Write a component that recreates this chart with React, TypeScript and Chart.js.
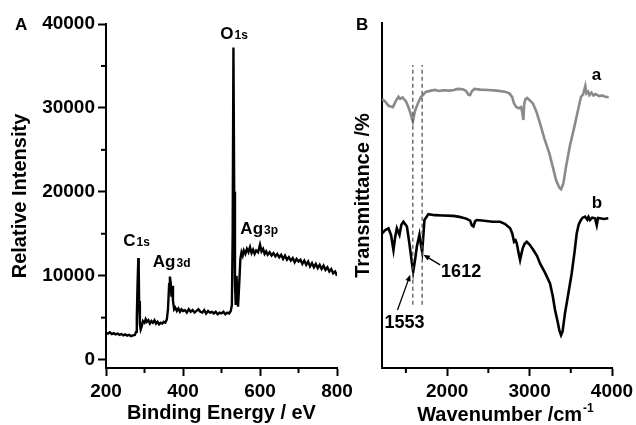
import React, { useEffect, useRef } from 'react';
import { Chart, registerables } from 'chart.js';

Chart.register(...registerables);

const FONT = "'Liberation Sans', Arial, Helvetica, sans-serif";

// ---------- Panel A: XPS survey ----------
const xpsEnergy = [
  200, 205, 210, 215, 220, 225, 230, 235, 240, 245, 250, 255, 260, 265, 270, 275, 278, 280, 282, 284,
  285, 286, 288, 290, 293, 296, 300, 303, 306, 310, 314, 318, 322, 326, 330, 334, 338, 342, 346, 350,
  354, 358, 361, 364, 366, 368, 370, 372, 374, 377, 380, 384, 388, 392, 396, 400, 405, 410, 415, 420,
  425, 430, 435, 440, 445, 450, 455, 460, 465, 470, 475, 480, 485, 490, 495, 500, 505, 510, 515, 520,
  524, 527, 529, 531, 533, 535, 537, 539, 541, 543, 546, 549, 552, 555, 558, 562, 566, 570, 574, 578,
  582, 586, 590, 595, 600, 604, 608, 612, 616, 620, 625, 630, 635, 640, 645, 650, 655, 660, 665, 670,
  675, 680, 685, 690, 695, 700, 705, 710, 715, 720, 725, 730, 735, 740, 745, 750, 755, 760, 765, 770,
  775, 780, 785, 790, 795, 800,
];
const xpsIntensity = [
  3200, 3100, 3250, 3050, 3150, 3000, 3100, 2950, 3050, 2900, 3000, 2850, 2950, 2800, 2900, 2950, 3300, 5000, 9000, 12100,
  11000, 7000, 4200, 3600, 4000, 4600, 4400, 4800, 4500, 4700, 4300, 4600, 4400, 4700, 4300, 4500, 4200, 4400, 4300, 4500,
  4400, 4800, 6000, 9000, 9900, 9200, 7500, 8800, 7000, 6000, 6200, 5800, 6100, 5700, 6000, 5800, 5900, 5600, 6000, 5700,
  5900, 5600, 5800, 6000, 5700, 5600, 5900, 5500, 5800, 5600, 5700, 5500, 5700, 5400, 5600, 5500, 5700, 5400, 5600, 5500,
  5800, 6500, 15000, 37200, 20000, 9000, 6500, 10000, 8000, 6300, 9000, 12000, 12800, 12400, 13000, 12600, 13200, 12800, 13400, 12700,
  13100, 12600, 13000, 12800, 13700, 12900, 13200, 12600, 12900, 12500, 12800, 12400, 12700, 12300, 12600, 12200, 12500, 12000, 12400, 11900,
  12200, 11800, 12100, 11600, 12000, 11700, 11900, 11400, 11800, 11300, 11700, 11100, 11500, 11000, 11400, 10900, 11300, 10800, 11200, 10700,
  11000, 10500, 10800, 10300, 10500, 10000,
];
const xpsXTicks = [200, 400, 600, 800];
const xpsXMinor = [300, 500, 700];
const xpsYTicks = [0, 10000, 20000, 30000, 40000];
const xpsYMinor = [5000, 15000, 25000, 35000];
const xpsPeakNames = ['C', 'Ag', 'O', 'Ag'];
const xpsPeakSubs = ['1s', '3d', '1s', '3p'];
const xpsPeakLabelX = [245, 321.6, 497, 549];
const xpsPeakLabelY = [13600, 11040, 38180, 15000];

// ---------- Panel B: FTIR ----------
const irWaveA = [
  1212, 1250, 1290, 1342, 1380, 1410, 1430, 1460, 1503, 1540, 1584, 1610, 1645, 1680, 1706, 1740, 1806, 1850, 1900, 1950,
  2028, 2080, 2130, 2190, 2230, 2260, 2279, 2300, 2331, 2400, 2500, 2600, 2700, 2755, 2790, 2810, 2836, 2870, 2897, 2912,
  2925, 2935, 2949, 2970, 2997, 3040, 3080, 3127, 3180, 3240, 3290, 3321, 3360, 3382, 3410, 3442, 3490, 3543, 3590, 3624,
  3650, 3676, 3690, 3710, 3725, 3750, 3775, 3800, 3846, 3880, 3920, 3960,
];
const irTransA = [
  78.0, 77.2, 76.0, 75.6, 77.5, 78.6, 78.0, 78.4, 77.2, 75.0, 71.4, 74.5, 76.7, 78.5, 79.1, 80.0, 80.4, 80.6, 80.3, 80.5,
  80.4, 80.6, 80.9, 80.8, 80.3, 79.2, 79.1, 80.2, 80.9, 80.7, 80.6, 80.4, 80.1, 79.6, 78.5, 76.8, 75.7, 75.3, 75.6, 74.0,
  71.9, 76.5, 77.9, 78.3, 77.7, 76.7, 74.5, 70.9, 66.5, 62.2, 57.5, 54.5, 52.3, 51.8, 53.5, 58.3, 64.5, 69.9, 75.0, 78.6,
  79.3, 81.7, 79.6, 80.1, 79.1, 79.8, 79.0, 79.4, 78.8, 79.0, 78.6, 78.5,
];
const irWaveB = [
  1212, 1250, 1289, 1320, 1349, 1370, 1390, 1422, 1445, 1470, 1512, 1540, 1570, 1588, 1612, 1633, 1664, 1680, 1697, 1712,
  1725, 1773, 1850, 1950, 2076, 2150, 2230, 2279, 2300, 2319, 2340, 2360, 2450, 2550, 2642, 2700, 2764, 2790, 2812, 2830,
  2845, 2870, 2885, 2900, 2917, 2940, 2966, 3000, 3046, 3090, 3127, 3190, 3248, 3280, 3309, 3340, 3361, 3382, 3400, 3430,
  3470, 3511, 3545, 3572, 3595, 3612, 3640, 3673, 3700, 3715, 3733, 3760, 3794, 3815, 3830, 3854, 3900, 3955,
];
const irTransB = [
  39.0, 40.0, 40.5, 38.5, 34.2, 38.0, 40.5, 38.6, 41.5, 42.4, 41.0, 36.5, 31.0, 27.9, 31.5, 35.2, 38.6, 36.0, 33.7, 38.5,
  42.9, 44.6, 44.3, 44.2, 44.1, 43.8, 43.3, 42.7, 41.3, 41.0, 42.6, 42.9, 42.7, 42.4, 42.4, 41.8, 40.5, 39.0, 36.6, 37.0,
  36.1, 33.0, 31.3, 33.0, 34.7, 36.0, 36.6, 35.8, 34.2, 32.5, 30.3, 27.5, 24.5, 21.0, 16.8, 13.5, 11.0, 9.5, 10.5, 15.9,
  21.5, 27.4, 33.5, 39.0, 41.5, 42.4, 43.5, 43.9, 43.0, 43.8, 42.9, 43.6, 43.4, 41.4, 43.5, 43.4, 43.2, 43.4,
];
const irXTicks = [2000, 3000, 4000];
const irXMinor = [1500, 2500, 3500];
const irMarkLines = [1584, 1697];
const irMarkRange = [18.3, 87.8];
const irCurveNames = ['a', 'b'];
const irCurveLabelX = [3754, 3754];
const irCurveLabelY = [83.5, 46.3];
const irPeakTexts = ['1612', '1553'];
const irPeakTextX = [1927, 1240];
const irPeakTextY = [26.4, 11.6];
const irArrowFromX = [1915, 1398];
const irArrowFromY = [29.9, 16.8];
const irArrowToX = [1713, 1552];
const irArrowToY = [32.8, 27.0];

const toPoints = (xs: number[], ys: number[]) => xs.map((x, i) => ({ x, y: ys[i] }));

// minor tick marks + x tick labels drawn from the chart's own x scale
const axisExtrasPlugin = {
  id: 'axisExtras',
  afterDraw(chart: any, _args: any, opts: any) {
    const { ctx, chartArea } = chart;
    ctx.save();
    ctx.strokeStyle = '#000';
    ctx.fillStyle = '#000';
    ctx.lineWidth = 2;
    (opts.x || []).forEach((v: number) => {
      const px = chart.scales.x.getPixelForValue(v);
      ctx.beginPath();
      ctx.moveTo(px, chartArea.bottom);
      ctx.lineTo(px, chartArea.bottom + 5);
      ctx.stroke();
    });
    (opts.y || []).forEach((v: number) => {
      const py = chart.scales.y.getPixelForValue(v);
      ctx.beginPath();
      ctx.moveTo(chartArea.left, py);
      ctx.lineTo(chartArea.left - 5, py);
      ctx.stroke();
    });
    ctx.font = `bold 19px ${FONT}`;
    ctx.textAlign = 'center';
    ctx.textBaseline = 'middle';
    (opts.xLabels || []).forEach((v: number) => {
      ctx.fillText(String(v), chart.scales.x.getPixelForValue(v), chartArea.bottom + 24);
    });
    ctx.restore();
  },
};

const drawSubLabel = (ctx: any, main: string, sub: string, x: number, y: number) => {
  ctx.font = `bold 17px ${FONT}`;
  ctx.textAlign = 'left';
  ctx.textBaseline = 'alphabetic';
  ctx.fillText(main, x, y);
  const w = ctx.measureText(main).width;
  ctx.font = `bold 12px ${FONT}`;
  ctx.fillText(sub, x + w + 1, y);
};

const xpsLabelsPlugin = {
  id: 'xpsLabels',
  afterDraw(chart: any) {
    const { ctx, scales } = chart;
    ctx.save();
    ctx.fillStyle = '#000';
    xpsPeakNames.forEach((n, i) => {
      drawSubLabel(ctx, n, xpsPeakSubs[i], scales.x.getPixelForValue(xpsPeakLabelX[i]), scales.y.getPixelForValue(xpsPeakLabelY[i]));
    });
    ctx.font = `bold 17px ${FONT}`;
    ctx.textAlign = 'left';
    ctx.textBaseline = 'alphabetic';
    ctx.fillText('A', 15, 29.5);
    ctx.restore();
  },
};

const drawArrow = (ctx: any, x1: number, y1: number, x2: number, y2: number) => {
  const ang = Math.atan2(y2 - y1, x2 - x1);
  const hl = 7;
  ctx.beginPath();
  ctx.moveTo(x1, y1);
  ctx.lineTo(x2 - Math.cos(ang) * 4, y2 - Math.sin(ang) * 4);
  ctx.stroke();
  ctx.beginPath();
  ctx.moveTo(x2, y2);
  ctx.lineTo(x2 - hl * Math.cos(ang - 0.4), y2 - hl * Math.sin(ang - 0.4));
  ctx.lineTo(x2 - hl * Math.cos(ang + 0.4), y2 - hl * Math.sin(ang + 0.4));
  ctx.closePath();
  ctx.fill();
};

const irLabelsPlugin = {
  id: 'irLabels',
  afterDraw(chart: any) {
    const { ctx, scales, chartArea } = chart;
    const sx = scales.x;
    const sy = scales.y;
    ctx.save();
    ctx.fillStyle = '#000';
    ctx.strokeStyle = '#000';
    ctx.textAlign = 'left';
    ctx.textBaseline = 'alphabetic';
    ctx.font = `bold 17px ${FONT}`;
    irCurveNames.forEach((n, i) => {
      ctx.fillText(n, sx.getPixelForValue(irCurveLabelX[i]), sy.getPixelForValue(irCurveLabelY[i]));
    });
    ctx.font = `bold 18px ${FONT}`;
    irPeakTexts.forEach((t, i) => {
      ctx.fillText(t, sx.getPixelForValue(irPeakTextX[i]), sy.getPixelForValue(irPeakTextY[i]));
    });
    ctx.lineWidth = 1.3;
    irArrowFromX.forEach((_, i) => {
      drawArrow(
        ctx,
        sx.getPixelForValue(irArrowFromX[i]),
        sy.getPixelForValue(irArrowFromY[i]),
        sx.getPixelForValue(irArrowToX[i]),
        sy.getPixelForValue(irArrowToY[i])
      );
    });
    ctx.font = `bold 17px ${FONT}`;
    ctx.fillText('B', chartArea.left - 26, 29.5);
    // x-axis title with superscript
    const cx = (chartArea.left + chartArea.right) / 2 + 8;
    ctx.font = `bold 20px ${FONT}`;
    const t1 = 'Wavenumber /cm';
    const w1 = ctx.measureText(t1).width;
    ctx.font = `bold 12px ${FONT}`;
    const t2 = '-1';
    const w2 = ctx.measureText(t2).width;
    const startX = cx - (w1 + w2) / 2;
    const base = chartArea.bottom + 53;
    ctx.font = `bold 20px ${FONT}`;
    ctx.fillText(t1, startX, base);
    ctx.font = `bold 12px ${FONT}`;
    ctx.fillText(t2, startX + w1 + 1, base - 9);
    ctx.restore();
  },
};

const axisCommon = {
  grid: { display: true, drawOnChartArea: false, drawTicks: true, tickLength: 8, tickWidth: 2, tickColor: '#000', color: '#000' },
  border: { display: true, width: 2, color: '#000' },
};

export default function App() {
  const refA = useRef<HTMLCanvasElement>(null);
  const refB = useRef<HTMLCanvasElement>(null);

  useEffect(() => {
    const tickFont = { family: FONT, size: 19, weight: 'bold' as const };
    const titleFont = { family: FONT, size: 20, weight: 'bold' as const };

    const chartA = new Chart(refA.current as HTMLCanvasElement, {
      type: 'line',
      data: {
        datasets: [
          {
            data: toPoints(xpsEnergy, xpsIntensity),
            borderColor: '#000',
            borderWidth: 2.4,
            pointRadius: 0,
            tension: 0,
          },
        ],
      },
      options: {
        animation: false,
        responsive: false,
        devicePixelRatio: 1,
        layout: { padding: { left: 0, top: 24, right: 299, bottom: 0 } },
        plugins: {
          legend: { display: false },
          tooltip: { enabled: false },
          axisExtras: { x: xpsXMinor, y: xpsYMinor, xLabels: xpsXTicks },
        } as any,
        scales: {
          x: {
            type: 'linear',
            min: 200,
            max: 800,
            ...axisCommon,
            afterBuildTicks: (s: any) => { s.ticks = xpsXTicks.map((v) => ({ value: v })); },
            afterFit: (s: any) => { s.height = 57; },
            ticks: { display: false },
            title: { display: true, text: 'Binding Energy / eV', color: '#000', font: titleFont, padding: { top: 0, bottom: 0 } },
          },
          y: {
            type: 'linear',
            min: -1000,
            max: 40000,
            ...axisCommon,
            afterBuildTicks: (s: any) => { s.ticks = xpsYTicks.map((v) => ({ value: v })); },
            afterFit: (s: any) => { s.width = 106; },
            ticks: { color: '#000', font: tickFont, padding: 3, callback: (v: any) => String(v) },
            title: { display: true, text: 'Relative Intensity', color: '#000', font: titleFont, padding: { top: 8, bottom: 0 } },
          },
        },
      } as any,
      plugins: [axisExtrasPlugin, xpsLabelsPlugin],
    });

    const chartB = new Chart(refB.current as HTMLCanvasElement, {
      type: 'line',
      data: {
        datasets: [
          {
            data: toPoints([irMarkLines[0], irMarkLines[0]], irMarkRange),
            borderColor: '#555',
            borderWidth: 1.3,
            borderDash: [4, 3],
            pointRadius: 0,
          },
          {
            data: toPoints([irMarkLines[1], irMarkLines[1]], irMarkRange),
            borderColor: '#555',
            borderWidth: 1.3,
            borderDash: [4, 3],
            pointRadius: 0,
          },
          {
            data: toPoints(irWaveA, irTransA),
            borderColor: '#8a8a8a',
            borderWidth: 2.6,
            pointRadius: 0,
            tension: 0,
          },
          {
            data: toPoints(irWaveB, irTransB),
            borderColor: '#000',
            borderWidth: 2.6,
            pointRadius: 0,
            tension: 0,
          },
        ],
      },
      options: {
        animation: false,
        responsive: false,
        devicePixelRatio: 1,
        layout: { padding: { left: 340, top: 23, right: 24, bottom: 0 } },
        plugins: {
          legend: { display: false },
          tooltip: { enabled: false },
          axisExtras: { x: irXMinor, y: [], xLabels: irXTicks },
        } as any,
        scales: {
          x: {
            type: 'linear',
            min: 1210,
            max: 4000,
            ...axisCommon,
            afterBuildTicks: (s: any) => { s.ticks = irXTicks.map((v) => ({ value: v })); },
            afterFit: (s: any) => { s.height = 57; },
            ticks: { display: false },
            title: { display: false },
          },
          y: {
            type: 'linear',
            min: 0,
            max: 100,
            grid: { display: false },
            border: { display: true, width: 2, color: '#000' },
            ticks: { display: false },
            afterFit: (s: any) => { s.width = 42; },
            title: { display: true, text: 'Transmittance /%', color: '#000', font: titleFont, padding: { top: 11, bottom: 0 } },
          },
        },
      } as any,
      plugins: [axisExtrasPlugin, irLabelsPlugin],
    });

    return () => {
      chartA.destroy();
      chartB.destroy();
    };
  }, []);

  return (
    <div style={{ position: 'absolute', left: 0, top: 0, width: 636, height: 425, background: '#fff', overflow: 'hidden' }}>
      <canvas ref={refA} width={636} height={425} style={{ position: 'absolute', left: 0, top: 0 }} />
      <canvas ref={refB} width={636} height={425} style={{ position: 'absolute', left: 0, top: 0 }} />
    </div>
  );
}
